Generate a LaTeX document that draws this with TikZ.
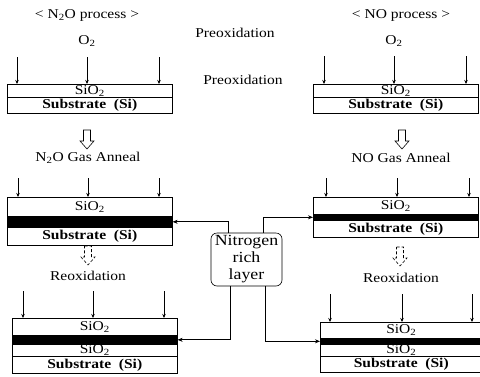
\documentclass[tikz,border=0pt]{standalone}
\usepackage{fontspec}
\setmainfont{Liberation Serif}[FakeStretch=1.15]
\usetikzlibrary{arrows.meta, positioning}

\begin{document}
\begin{tikzpicture}[
      x=1pt, y=-1pt,
      lbl/.style={
          font=\fontsize{13.5}{15}\selectfont,
          inner sep=0pt
        },
      layer/.style={
          draw,
          line width=0.6pt,
          anchor=north west,
          minimum width=165pt,
          inner sep=0pt,
          text height=8.5pt,
          text depth=2pt,
          font=\fontsize{13.5}{15}\selectfont
        },
      sub/.style={
          layer,
          font=\fontsize{13.5}{15}\selectfont\bfseries
        },
      band/.style={
          layer,
          fill=black,
          text height=0pt,
          text depth=0pt
        },
      nbox/.style={
          draw,
          rounded corners=6pt,
          line width=0.6pt,
          align=center,
          minimum width=71pt,
          minimum height=53pt,
          inner sep=0pt,
          font=\fontsize{15.5}{17}\selectfont
        },
      dn/.style={
          -{Stealth[length=4pt,width=3.5pt]},
          line width=0.7pt
        },
      conn/.style={
          -{Stealth[length=5pt,width=4pt]},
          line width=0.7pt
        },
      hollow/.style={
          line width=0.6pt
        }
    ]
    \useasboundingbox (0,0) rectangle (480,376);

    % Titles and step labels
    \node[lbl] (n2otitle) at (87,15) {< N\textsubscript{2}O process >};
    \node[lbl] (notitle) at (401,15) {< NO process >};
    \node[lbl] (pre1) at (235,33) {Preoxidation};
    \node[lbl] (pre2) at (243,80) {Preoxidation};
    \node[lbl] (o2l) at (87,41) {O\textsubscript{2}};
    \node[lbl] (o2r) at (394,41) {O\textsubscript{2}};
    \node[lbl] (annl) at (88,158) {N\textsubscript{2}O Gas Anneal};
    \node[lbl] (annr) at (401,158) {NO Gas Anneal};
    \node[lbl] (reoxl) at (88,276) {Reoxidation};
    \node[lbl] (reoxr) at (401,278) {Reoxidation};

    % Left column stacks
    \node[layer, minimum height=13pt] (lox1) at (7,84) {SiO\textsubscript{2}};
    \node[sub, minimum height=16pt] (lsub1) at (7,97) {Substrate\ \ (Si)};
    \node[layer, minimum height=19pt] (lox2) at (7,197) {SiO\textsubscript{2}};
    \node[band, minimum height=11pt] (lband2) at (7,216) {};
    \node[sub, minimum height=18pt] (lsub2) at (7,227) {Substrate\ \ (Si)};
    \node[layer, minimum height=17pt] (lox3) at (12,318) {SiO\textsubscript{2}};
    \node[band, minimum height=9pt] (lband3) at (12,335) {};
    \node[layer, minimum height=12pt] (lox3b) at (12,344) {SiO\textsubscript{2}};
    \node[sub, minimum height=17pt] (lsub3) at (12,356) {Substrate\ \ (Si)};

    % Right column stacks
    \node[layer, minimum height=13pt] (rox1) at (313,84) {SiO\textsubscript{2}};
    \node[sub, minimum height=16pt] (rsub1) at (313,97) {Substrate\ \ (Si)};
    \node[layer, minimum height=17pt] (rox2) at (313,197) {SiO\textsubscript{2}};
    \node[band, minimum height=6pt] (rband2) at (313,214) {};
    \node[sub, minimum height=17pt] (rsub2) at (313,220) {Substrate\ \ (Si)};
    \node[layer, minimum width=162pt, minimum height=16pt] (rox3) at (320,322) {SiO\textsubscript{2}};
    \node[band, minimum width=162pt, minimum height=6pt] (rband3) at (320,338) {};
    \node[layer, minimum width=162pt, minimum height=12pt] (rox3b) at (320,344) {SiO\textsubscript{2}};
    \node[sub, minimum width=162pt, minimum height=16pt] (rsub3) at (320,356) {Substrate\ \ (Si)};

    % Nitrogen rich layer
    \node[nbox] (nit) at (246.5,259.5) {Nitrogen\\rich\\layer};

    % Gas arrows
    \foreach \x in {17,87,159} \draw[dn] (\x,57) -- (\x,0 |- lox1.north);
    \foreach \x in {324,394,466} \draw[dn] (\x,56) -- (\x,0 |- rox1.north);
    \foreach \x in {18,88,159} \draw[dn] (\x,178) -- (\x,0 |- lox2.north);
    \foreach \x in {326,397,469} \draw[dn] (\x,178) -- (\x,0 |- rox2.north);
    \foreach \x in {23,93,164} \draw[dn] (\x,291) -- (\x,0 |- lox3.north);
    \foreach \x in {330,402,472} \draw[dn] (\x,294) -- (\x,0 |- rox3.north);

    % Process step arrows
    \foreach \x/\y/\s in {87/130/solid, 402/130/solid, 88/246/densely dashed, 400/247/densely dashed}
      \draw[hollow, \s] (\x-3.5,\y) -- (\x+3.5,\y) -- (\x+3.5,\y+11) -- (\x+7,\y+11)
        -- (\x,\y+19) -- (\x-7,\y+11) -- (\x-3.5,\y+11) -- cycle;

    % Connectors
    \draw[conn] ([xshift=-18.5pt]nit.north) |- (lband2.east);
    \draw[conn] ([xshift=16.5pt]nit.north) |- (rband2.west);
    \draw[conn] ([xshift=-16.5pt]nit.south) |- (lband3.east);
    \draw[conn] ([xshift=18.5pt]nit.south) |- (rband3.west);

  \end{tikzpicture}
\end{document}
